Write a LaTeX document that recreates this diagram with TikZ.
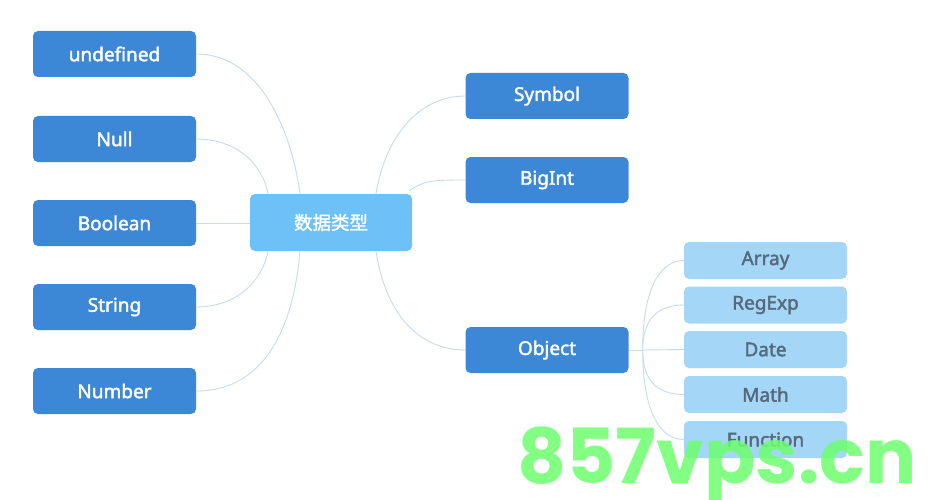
\documentclass[tikz,border=0pt]{standalone}
\usepackage{fontspec}
\setmainfont{Noto Sans}[FakeBold=2]
\newfontfamily\cjkfont{Noto Sans CJK SC}[FakeBold=1.6]
\newfontfamily\wmfont{Poppins}
\definecolor{darkbox}{HTML}{3C87D6}
\definecolor{centerbox}{HTML}{6EC1F7}
\definecolor{subbox}{HTML}{A3D6F7}
\definecolor{subtext}{HTML}{55697A}
\definecolor{linkc}{HTML}{C6DCEB}
\definecolor{wmgreen}{HTML}{6EFF6E}
\begin{document}
\begin{tikzpicture}[x=1pt,y=-1pt,
  mainbox/.style={rectangle,rounded corners=5pt,fill=darkbox,text=white,minimum width=163pt,minimum height=46pt,inner sep=0pt,font=\fontsize{19}{22}\selectfont},
  rootbox/.style={rectangle,rounded corners=5pt,fill=centerbox,text=white,minimum width=162pt,minimum height=57pt,inner sep=0pt,font=\cjkfont\fontsize{18.5}{20}\selectfont},
  leafbox/.style={rectangle,rounded corners=5pt,fill=subbox,text=subtext,minimum width=163pt,minimum height=37pt,inner sep=0pt,font=\fontsize{19}{22}\selectfont},
  link/.style={draw=linkc,line width=0.9pt},
  wm/.style={text=wmgreen,opacity=0.85,font=\wmfont\bfseries\fontsize{76}{80}\selectfont,inner sep=0pt}]
\useasboundingbox (0,0) rectangle (931,500);
\fill[white] (0,0) rectangle (931,500);
% nodes
\node[rootbox] (root) at (331,222.5) {数据类型};
\node[mainbox] (undef) at (114.5,54) {undefined};
\node[mainbox] (null) at (114.5,139) {Null};
\node[mainbox] (bool) at (114.5,223) {Boolean};
\node[mainbox] (str) at (114.5,307) {String};
\node[mainbox] (num) at (114.5,391) {Number};
\node[mainbox] (sym) at (547,96) {Symbol};
\node[mainbox] (big) at (547,180) {BigInt};
\node[mainbox] (obj) at (547,350) {Object};
\node[leafbox] (arr) at (765.5,260.5) {Array};
\node[leafbox] (reg) at (765.5,305) {RegExp};
\node[leafbox] (date) at (765.5,349.5) {Date};
\node[leafbox] (math) at (765.5,394.5) {Math};
\node[leafbox] (func) at (765.5,439.5) {Function};
\coordinate (fork) at ([xshift=14pt]obj.east);
% connectors left
\draw[link] (undef.east) .. controls +(65,0) and +(-8,-60) .. ([xshift=-31pt]root.north);
\draw[link] (null.east) .. controls +(42,0) and +(-5,-28) .. ([xshift=-63pt]root.north);
\draw[link] (bool.east) -- (bool.east -| root.west);
\draw[link] (str.east) .. controls +(42,0) and +(-5,28) .. ([xshift=-63pt]root.south);
\draw[link] (num.east) .. controls +(72,0) and +(-6,70) .. ([xshift=-31pt]root.south);
% connectors right
\draw[link] ([xshift=45pt]root.north) .. controls +(10,-60) and +(-45,0) .. (sym.west);
\draw[link] ([xshift=-3pt,yshift=3pt]root.north east) .. controls +(15,-10) and +(-35,0) .. (big.west);
\draw[link] ([xshift=45pt]root.south) .. controls +(10,65) and +(-45,0) .. (obj.west);
% object branches
\draw[link] (obj.east) -- (fork);
\draw[link] (fork) .. controls +(0,-65) and +(-22,0) .. (arr.west);
\draw[link] (fork) .. controls +(0,-35) and +(-22,0) .. (reg.west);
\draw[link] (fork) -- (date.west);
\draw[link] (fork) .. controls +(0,35) and +(-22,0) .. (math.west);
\draw[link] (fork) .. controls +(0,65) and +(-22,0) .. (func.west);
% watermark
\node[wm,anchor=base west] (wmark) at (517,483) {857vps.cn};
\end{tikzpicture}
\end{document}
